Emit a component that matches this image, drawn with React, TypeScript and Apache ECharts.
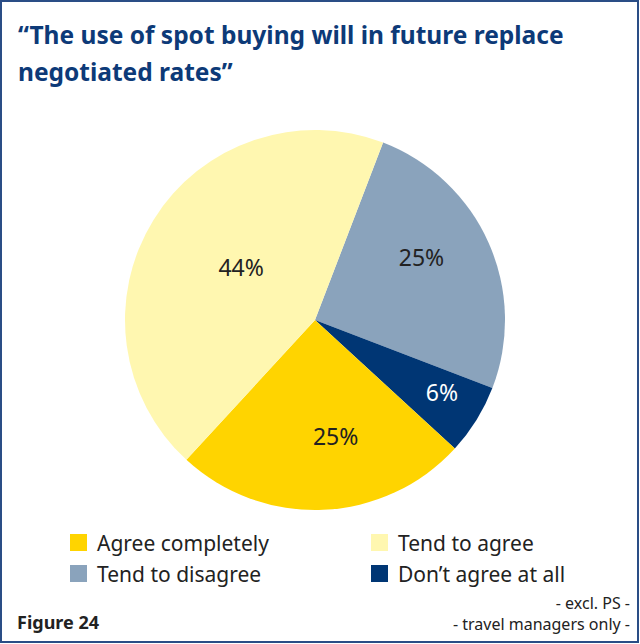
import React, { useEffect, useRef } from "react";
import * as echarts from "echarts";

const categories = ["Tend to disagree", "Don\u2019t agree at all", "Agree completely", "Tend to agree"];
const values = [25, 6, 25, 44];
const sliceColors = ["#8aa3bc", "#003674", "#ffd400", "#fff7b0"];
const labelColors = ["#222222", "#ffffff", "#222222", "#222222"];
const labelDistance = [123, 147, 120, 90];
const labelRotate = [-6, -1.5, -7.5, 3];
const legendLeft = ["Agree completely", "Tend to disagree"];
const legendRight = ["Tend to agree", "Don\u2019t agree at all"];
const titleText = "\u201cThe use of spot buying will in future replace\nnegotiated rates\u201d";
const figureLabel = "Figure 24";
const notes = ["- excl. PS -", "- travel managers only -"];

const CX = 315;
const CY = 320;
const FONT = "'Noto Sans', sans-serif";

export default function App() {
  const ref = useRef<HTMLDivElement>(null);
  useEffect(() => {
    if (!ref.current) return;
    const chart = echarts.init(ref.current, null, { renderer: "svg" });
    const legendText = { fontFamily: FONT, fontSize: 21, color: "#222222", padding: [0, 0, 0, 5] };
    const legendBase = {
      orient: "vertical",
      top: 532,
      padding: 0,
      icon: "rect",
      itemWidth: 17,
      itemHeight: 17,
      itemGap: 10,
      textStyle: legendText,
      selectedMode: false,
    };
    chart.setOption({
      animation: false,
      backgroundColor: "#ffffff",
      title: {
        text: titleText,
        left: 13,
        top: 11,
        textStyle: { fontFamily: FONT, fontSize: 24.5, fontWeight: "bold", color: "#0d3a78", lineHeight: 37 },
      },
      legend: [
        { ...legendBase, data: legendLeft, left: 70 },
        { ...legendBase, data: legendRight, left: 371 },
      ],
      graphic: [
        {
          type: "rect",
          shape: { x: 1, y: 1, width: 637, height: 641 },
          style: { fill: "none", stroke: "#2a4d86", lineWidth: 2 },
        },
        {
          type: "text",
          left: 17,
          top: 613,
          style: { text: figureLabel, fontFamily: FONT, fontSize: 18, fontWeight: "bold", fill: "#222222" },
        },
        {
          type: "text",
          right: 10,
          top: 595,
          style: { text: notes[0], fontFamily: FONT, fontSize: 16, fill: "#222222", textAlign: "right" },
        },
        {
          type: "text",
          right: 10,
          top: 616,
          style: { text: notes[1], fontFamily: FONT, fontSize: 16, fill: "#222222", textAlign: "right" },
        },
      ],
      series: [
        {
          type: "pie",
          center: [CX, CY],
          radius: [0, 190],
          startAngle: 69,
          clockwise: true,
          avoidLabelOverlap: false,
          data: categories.map((name, i) => ({
            name,
            value: values[i],
            itemStyle: { color: sliceColors[i] },
            label: { color: labelColors[i] },
          })),
          itemStyle: { borderWidth: 0 },
          label: {
            show: true,
            position: "inside",
            formatter: "{c}%",
            fontFamily: FONT,
            fontSize: 23,
          },
          labelLine: { show: false },
          labelLayout: (params: any) => {
            const r = params.labelRect;
            const x = r.x + r.width / 2;
            const y = r.y + r.height / 2;
            const i = params.dataIndex;
            const a = Math.atan2(y - CY, x - CX) + (labelRotate[i] * Math.PI) / 180;
            const d = labelDistance[i];
            const nx = CX + d * Math.cos(a);
            const ny = CY + d * Math.sin(a) - 2;
            return { dx: nx - x, dy: ny - y };
          },
          emphasis: { disabled: true },
        },
      ],
    });
    return () => chart.dispose();
  }, []);
  return <div ref={ref} style={{ position: "fixed", left: 0, top: 0, width: 640, height: 644 }} />;
}
